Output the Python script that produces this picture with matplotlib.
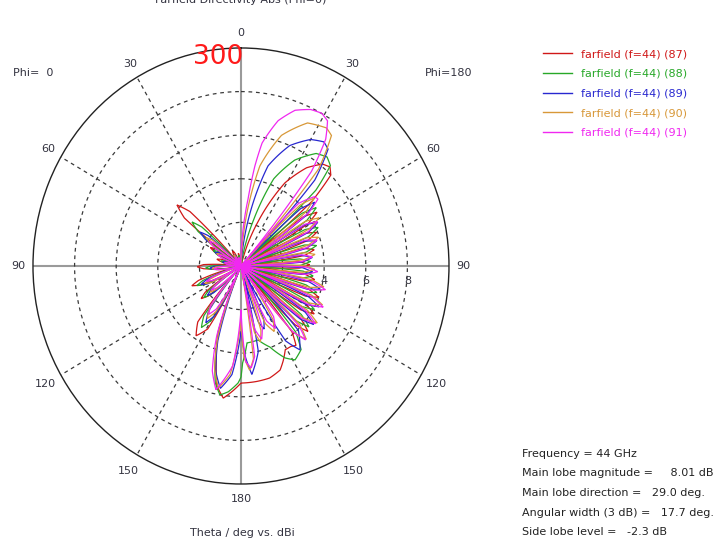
import numpy as np
import matplotlib
matplotlib.use('Agg')
import matplotlib.pyplot as plt
from matplotlib.lines import Line2D
from matplotlib.path import Path
from matplotlib.patches import PathPatch

# --- Farfield cuts, f = 44 GHz: (theta deg, directivity dBi) ---
# theta > 0 -> Phi=180 half (right), theta < 0 -> Phi=0 half (left)
cut_87 = [(-180, 5.37), (-176, 5.75), (-172, 6.12), (-168, 5.6), (-165, 4.6), (-160, 3.2), (-156, 0),
          (-151, 3.3), (-146, 3.86), (-141, 3.3), (-137, 0),
          (-131, 2.1), (-128, 2.43), (-125, 2.1), (-120, 0),
          (-114, 2.15), (-111, 2.53), (-108, 2.15), (-102, 0),
          (-94, 1.8), (-91, 2.1), (-88, 1.8), (-83, 0),
          (-78, 1.0), (-75, 1.2), (-72, 1.0), (-67, 0),
          (-63, 1.45), (-60, 1.7), (-57, 1.45), (-54, 0),
          (-51, 3.5), (-47.7, 4.16), (-44.5, 3.5), (-41, 0),
          (-33, 0.7), (-30, 0.8), (-27, 0.7), (-20, 0),
          (-14, 0.5), (-12, 0.6), (-10, 0.5), (-6, 0),
          (14, 0), (22, 2.2), (29, 4.36), (35, 5.5), (40, 6.1), (43.3, 6.24), (46, 6.0), (49, 4.5), (51, 0),
          (53, 3.75), (56, 4.41), (59, 3.75), (61.5, 0),
          (64, 3.4), (67, 3.95), (70, 3.4), (72.5, 0),
          (75, 3.1), (78, 3.6), (81, 3.1), (83.5, 0),
          (86, 2.8), (89, 3.3), (92, 2.8), (94.5, 0),
          (97, 3.1), (100, 3.6), (103, 3.1), (105.5, 0),
          (108, 3.4), (111, 4.0), (114, 3.4), (116.5, 0),
          (119, 3.5), (122, 4.15), (125, 3.5), (127.5, 0),
          (130, 3.75), (133, 4.4), (136, 3.75), (138.5, 0),
          (141, 3.9), (144, 4.5), (147, 4.4), (151, 4.39), (155, 4.8), (158.5, 5.13), (165, 5.32),
          (172, 5.35), (180, 5.37)]

cut_88 = [(-180, 5.1), (-178.5, 5.37), (-174, 5.8), (-170.3, 6.0), (-167, 5.5), (-164, 4.5), (-160, 3.0), (-156, 0),
          (-150, 2.9), (-146, 3.4), (-142, 2.9), (-138, 0),
          (-132, 1.95), (-129, 2.3), (-126, 1.95), (-121, 0),
          (-116, 1.95), (-113, 2.3), (-110, 1.95), (-104, 0),
          (-96, 1.45), (-93, 1.7), (-90, 1.45), (-85, 0),
          (-80, 0.85), (-77, 1.0), (-74, 0.85), (-69, 0),
          (-65, 1.3), (-62, 1.5), (-59, 1.3), (-56, 0),
          (-52.5, 2.6), (-49.4, 3.1), (-46.5, 2.6), (-43, 0),
          (-34, 0.5), (-31, 0.6), (-28, 0.5), (-21, 0),
          (-15, 0.4), (-13, 0.5), (-11, 0.4), (-7, 0),
          (9, 0), (16, 2.2), (21.5, 4.3), (28, 5.5), (35, 6.3), (39.6, 6.49), (43, 6.3), (46, 5.0), (48, 0),
          (50.5, 3.8), (53.5, 4.5), (56.5, 3.8), (59, 0),
          (61.5, 3.5), (64.5, 4.11), (67.5, 3.5), (70, 0),
          (72.5, 3.2), (75.5, 3.75), (78.5, 3.2), (81, 0),
          (83.5, 2.85), (86.5, 3.35), (89.5, 2.85), (92, 0),
          (94.5, 3.0), (97.5, 3.5), (100.5, 3.0), (103, 0),
          (105.5, 3.25), (108.5, 3.85), (111.5, 3.25), (114, 0),
          (116.5, 3.45), (119.5, 4.05), (122.5, 3.45), (125, 0),
          (127.5, 3.65), (130.5, 4.3), (133.5, 3.65), (136, 0),
          (139, 4.0), (143, 4.8), (148.9, 5.03), (153.3, 4.72), (159.5, 3.97), (166.4, 3.49),
          (175.3, 3.54), (179, 4.45), (180, 5.1)]

cut_89 = [(-180, 3.0), (-175, 5.0), (-170, 5.7), (-166, 5.0), (-162, 3.6), (-157, 0),
          (-151, 2.6), (-147, 3.1), (-143, 2.6), (-139, 0),
          (-133, 1.8), (-130, 2.1), (-127, 1.8), (-122, 0),
          (-117, 1.8), (-114, 2.1), (-111, 1.8), (-105, 0),
          (-97, 1.3), (-94, 1.5), (-91, 1.3), (-86, 0),
          (-81, 0.75), (-78, 0.9), (-75, 0.75), (-70, 0),
          (-66, 1.2), (-63, 1.4), (-60, 1.2), (-57, 0),
          (-54.5, 2.1), (-51.6, 2.5), (-48.5, 2.1), (-45, 0),
          (-35, 0.5), (-32, 0.6), (-29, 0.5), (-22, 0),
          (-16, 0.35), (-14, 0.4), (-12, 0.35), (-8, 0),
          (4, 0), (10, 2.4), (15.8, 4.77), (23, 6.0), (30, 6.7), (35, 6.95), (38, 6.8), (42, 5.3), (45, 0),
          (47.5, 3.9), (50.5, 4.6), (53.5, 3.9), (56, 0),
          (58.5, 3.6), (61.5, 4.2), (64.5, 3.6), (67, 0),
          (69.5, 3.25), (72.5, 3.8), (75.5, 3.25), (78, 0),
          (80.5, 2.95), (83.5, 3.45), (86.5, 2.95), (89, 0),
          (91.5, 2.95), (94.5, 3.45), (97.5, 2.95), (100, 0),
          (102.5, 3.35), (105.5, 3.95), (108.5, 3.35), (111, 0),
          (113.5, 3.55), (116.5, 4.2), (119.5, 3.55), (122, 0),
          (124.5, 3.75), (127.5, 4.4), (130.5, 3.75), (133, 0),
          (137, 4.05), (143.6, 4.78), (148, 4.05), (152, 0),
          (156, 2.7), (159, 3.1), (162, 2.7), (165, 0),
          (168, 4.0), (174, 5.0), (177, 4.2), (180, 3.0)]

cut_90 = [(-180, 2.5), (-174, 5.0), (-169, 5.7), (-165, 4.9), (-161, 3.4), (-156, 0),
          (-150, 2.45), (-146, 2.9), (-142, 2.45), (-138, 0),
          (-132, 1.6), (-129, 1.9), (-126, 1.6), (-121, 0),
          (-118, 1.6), (-115, 1.9), (-112, 1.6), (-106, 0),
          (-98, 1.2), (-95, 1.4), (-92, 1.2), (-87, 0),
          (-82, 0.7), (-79, 0.8), (-76, 0.7), (-71, 0),
          (-67, 1.1), (-64, 1.3), (-61, 1.1), (-58, 0),
          (-55, 1.8), (-52, 2.1), (-49, 1.8), (-46, 0),
          (-36, 0.5), (-33, 0.6), (-30, 0.5), (-23, 0),
          (-17, 0.35), (-15, 0.4), (-13, 0.35), (-9, 0),
          (2, 0), (7, 2.6), (11.2, 4.68), (18, 6.3), (26, 7.3), (33, 7.55), (36, 7.4), (40, 5.8), (43, 0),
          (45.5, 4.0), (48.5, 4.7), (51.5, 4.0), (54, 0),
          (56.5, 3.7), (59.5, 4.35), (62.5, 3.7), (65, 0),
          (67.5, 3.35), (70.5, 3.95), (73.5, 3.35), (76, 0),
          (78.5, 3.05), (81.5, 3.6), (84.5, 3.05), (87, 0),
          (89.5, 3.0), (92.5, 3.55), (95.5, 3.0), (98, 0),
          (100.5, 3.45), (103.5, 4.1), (106.5, 3.45), (109, 0),
          (111.5, 3.65), (114.5, 4.3), (117.5, 3.65), (120, 0),
          (122.5, 3.8), (125.5, 4.5), (128.5, 3.8), (131, 0),
          (133.5, 3.9), (137, 4.6), (140.5, 3.9), (144, 0),
          (148, 2.9), (152, 3.4), (156, 2.9), (160, 0),
          (162, 3.1), (165, 3.6), (168, 3.1), (170, 0),
          (172, 4.3), (175, 4.8), (178, 4.2), (180, 2.5)]

cut_91 = [(-180, 2.0), (-175, 4.6), (-168, 5.8), (-164, 5.0), (-160, 3.4), (-155, 0),
          (-149, 2.3), (-145, 2.7), (-141, 2.3), (-137, 0),
          (-131, 1.5), (-128, 1.8), (-125, 1.5), (-120, 0),
          (-116, 1.5), (-113, 1.8), (-110, 1.5), (-105, 0),
          (-99, 1.1), (-96, 1.3), (-93, 1.1), (-88, 0),
          (-83, 0.7), (-80, 0.8), (-77, 0.7), (-72, 0),
          (-68, 1.0), (-65, 1.2), (-62, 1.0), (-59, 0),
          (-56, 1.6), (-53, 1.9), (-50, 1.6), (-47, 0),
          (-37, 0.45), (-34, 0.5), (-31, 0.45), (-24, 0),
          (-18, 0.35), (-16, 0.4), (-14, 0.35), (-10, 0),
          (-2, 0), (2, 1.0), (6.3, 3.09), (8.3, 4.64), (10.2, 5.73), (15, 6.9), (20, 7.6), (25, 7.92),
          (29, 8.01), (32, 7.85), (35, 7.1), (38, 5.5), (41, 0),
          (44, 4.0), (48, 4.75), (50.3, 4.81), (53, 4.1), (56, 0),
          (58, 3.6), (61, 4.2), (64, 3.6), (66.5, 0),
          (69, 3.3), (72, 3.85), (75, 3.3), (77.5, 0),
          (80, 2.95), (83, 3.45), (86, 2.95), (88.5, 0),
          (91, 3.15), (94, 3.7), (97, 3.15), (99.5, 0),
          (102, 3.55), (105, 4.2), (108, 3.55), (110, 0),
          (112.5, 3.7), (115.5, 4.38), (118.5, 3.7), (121, 0),
          (123.5, 3.75), (126.5, 4.45), (129.5, 3.75), (132, 0),
          (134.5, 3.9), (137.5, 4.6), (140.5, 3.9), (143, 0),
          (146, 2.8), (150, 3.3), (154, 2.8), (157, 0),
          (160, 3.0), (163.5, 3.5), (167, 3.0), (169, 0),
          (171, 4.2), (174, 4.7), (177, 4.4), (180, 2.0)]

cuts = [cut_87, cut_88, cut_89, cut_90, cut_91]
labels = ['farfield (f=44) (87)', 'farfield (f=44) (88)', 'farfield (f=44) (89)',
          'farfield (f=44) (90)', 'farfield (f=44) (91)']
colors = ['#d01818', '#28a828', '#2828d0', '#d89838', '#f028f0']

info_lines = ['Frequency = 44 GHz',
              'Main lobe magnitude =     8.01 dB',
              'Main lobe direction =   29.0 deg.',
              'Angular width (3 dB) =   17.7 deg.',
              'Side lobe level =   -2.3 dB']

angle_ticks = [0, 30, 60, 90, 120, 150, 180, -150, -120, -90, -60, -30]
r_ticks = [2, 4, 6, 8]
R_MAX = 10

plt.rcParams['font.family'] = 'DejaVu Sans'
TXT = '#333340'

fig = plt.figure(figsize=(7.17, 5.44), dpi=100)
ax = fig.add_axes([0.0460, 0.1103, 0.5802, 0.8015], projection='polar')
ax.set_aspect('auto')
ax.set_theta_zero_location('N')
ax.set_theta_direction(-1)
ax.set_ylim(0, R_MAX)

# grid: dashed circles, dashed spokes, solid main axes
ax.set_xticks([])
ax.set_yticks(r_ticks)
ax.set_yticklabels([])
ax.yaxis.grid(True, linestyle=(0, (3, 3)), color='#3a3a3a', lw=0.9)
for a in [30, 60, 120, 150, 210, 240, 300, 330]:
    ax.plot([np.deg2rad(a)] * 2, [0, R_MAX], ls=(0, (3, 3)), color='#3a3a3a', lw=0.9, zorder=1)
for a in [0, 90, 180, 270]:
    ax.plot([np.deg2rad(a)] * 2, [0, R_MAX], color='#9a9a9a', lw=1.5, zorder=1)
ax.spines['polar'].set_color('#222222')
ax.spines['polar'].set_linewidth(1.0)

# pattern curves; the path is interpolated along theta so segments follow the polar grid
for cut, c in zip(cuts, colors):
    arr = np.array(cut, dtype=float)
    verts = np.column_stack([np.deg2rad(arr[:, 0]), np.clip(arr[:, 1], 0, None)])
    path = Path(verts, _interpolation_steps=40)
    ax.add_patch(PathPatch(path, fill=False, edgecolor=c, lw=0.9, zorder=3,
                           transform=ax.transData))

# angle labels
for a in angle_ticks:
    r = 10.85 if abs(a) in (120, 150) else 10.7
    ax.text(np.deg2rad(a), r, str(abs(a)), ha='center', va='center', fontsize=8, color=TXT)

# radial labels on the 90 deg axis
for v in [4, 6, 8]:
    ax.annotate(str(v), xy=(np.pi / 2, v), xytext=(0, -11), textcoords='offset points',
                ha='center', va='center', fontsize=8, color=TXT)

fig.text(13 / 717, 1 - 73 / 544, 'Phi=  0', ha='left', va='center', fontsize=8, color=TXT)
fig.text(425 / 717, 1 - 73 / 544, 'Phi=180', ha='left', va='center', fontsize=8, color=TXT)
fig.text(241 / 717, 1.0, 'Farfield Directivity Abs (Phi=0)', ha='center', va='center',
         fontsize=8, color=TXT)
fig.text(242 / 717, 1 - 533 / 544, 'Theta / deg vs. dBi', ha='center', va='center',
         fontsize=8, color=TXT)
fig.text(218 / 717, 1 - 57 / 544, '300', ha='center', va='center', fontsize=19, color='#ff1a1a')

handles = [Line2D([], [], color=c, lw=1.0) for c in colors]
leg = fig.legend(handles, labels, loc='upper left', bbox_to_anchor=(540 / 717, 1 - 46 / 544),
                 frameon=False, fontsize=8, handlelength=2.6, handletextpad=0.8,
                 labelspacing=0.86, borderaxespad=0, borderpad=0.3)
for t, c in zip(leg.get_texts(), colors):
    t.set_color(c)

for i, line in enumerate(info_lines):
    fig.text(522 / 717, 1 - (454 + i * 19.5) / 544, line, ha='left', va='center',
             fontsize=8, color='#222222')

fig.savefig('out.png', dpi=100)
